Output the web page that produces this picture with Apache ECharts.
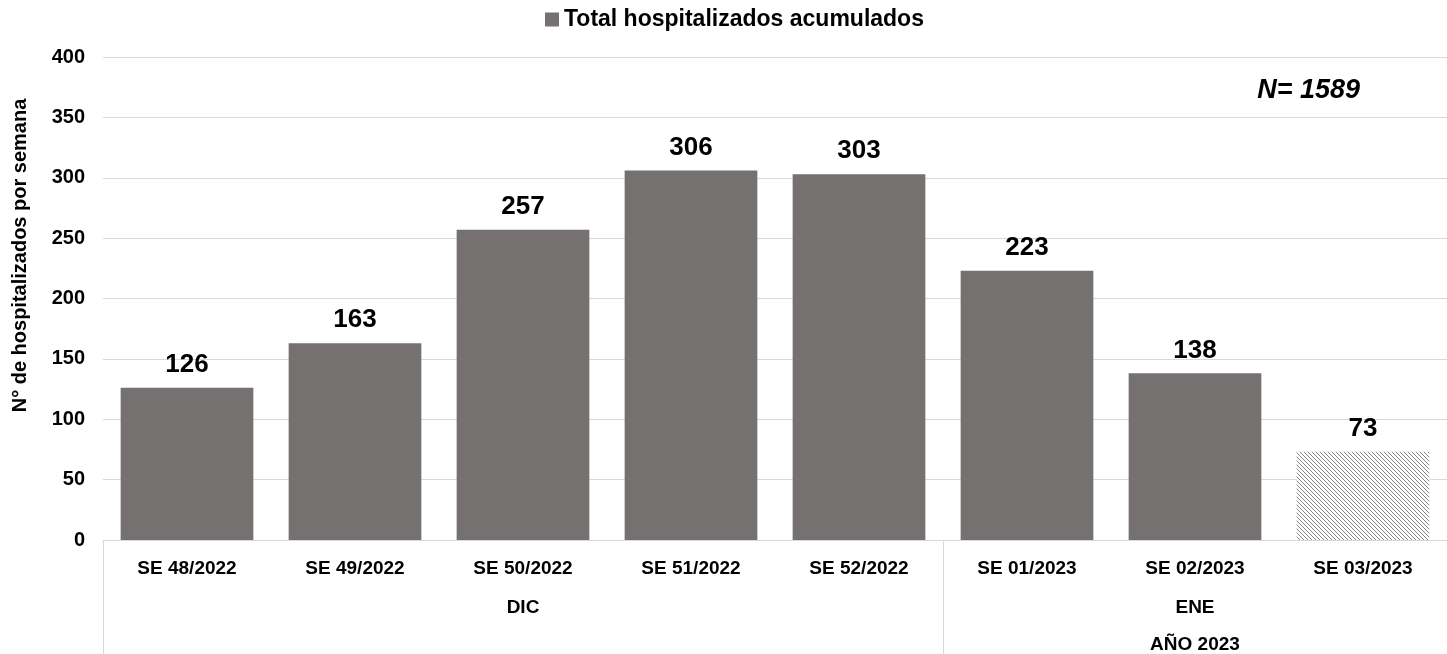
<!DOCTYPE html>
<html><head><meta charset="utf-8">
<script src="https://cdn.jsdelivr.net/npm/echarts@6/dist/echarts.min.js"></script>
<style>html,body{margin:0;padding:0;background:#fff}#c{width:1447px;height:654px}</style>
</head><body><div id="c"></div>
<script>
var categories = ['SE 48/2022','SE 49/2022','SE 50/2022','SE 51/2022','SE 52/2022','SE 01/2023','SE 02/2023','SE 03/2023'];
var values = [126, 163, 257, 306, 303, 223, 138, 73];
var monthLabels = ['', '', 'DIC', '', '', '', 'ENE', ''];
var yearLabels = ['', '', '', '', '', '', 'AÑO 2023', ''];
var yTicks = [0, 50, 100, 150, 200, 250, 300, 350, 400];
var seriesName = 'Total hospitalizados acumulados';
var totalText = 'N= 1589';
var hatchedIndex = 7;

var pc = document.createElement('canvas');
pc.width = 4; pc.height = 4;
var g = pc.getContext('2d');
g.fillStyle = '#fff'; g.fillRect(0,0,4,4);
g.strokeStyle = '#858585'; g.lineWidth = 1;
g.beginPath(); g.moveTo(-1,-1); g.lineTo(5,5); g.stroke();
g.beginPath(); g.moveTo(3,-1); g.lineTo(5,1); g.stroke();
g.beginPath(); g.moveTo(-1,3); g.lineTo(1,5); g.stroke();

var FONT = 'Arial, "Liberation Sans", sans-serif';
var barData = values.map(function(v, i){
  if (i === hatchedIndex) return {value: v, itemStyle: {color: {image: pc, repeat: 'repeat'}}};
  return v;
});
var chart = echarts.init(document.getElementById('c'));
chart.setOption({
  animation: false,
  textStyle: {fontFamily: FONT},
  title: {text: totalText, right: 82, top: 72, textStyle: {fontSize: 27, fontWeight: 'bold', fontStyle: 'italic', color: '#000', fontFamily: FONT}},
  legend: {data: [seriesName], top: 3, left: 540, icon: 'rect', itemWidth: 14, itemHeight: 14, itemGap: 6,
    textStyle: {fontSize: 23, fontWeight: 'bold', color: '#000', fontFamily: FONT}},
  grid: {left: 103, right: -4, top: 57, bottom: 114, containLabel: false},
  xAxis: [
    {type: 'category', data: categories, position: 'bottom',
     axisLine: {lineStyle: {color: '#d9d9d9', width: 1}},
     axisTick: {show: true, length: 114, lineStyle: {color: '#d9d9d9'}, interval: function(i){ return i === 0 || i === 5; }},
     axisLabel: {fontSize: 19, fontWeight: 'bold', color: '#000', margin: 19, interval: 0, fontFamily: FONT}},
    {type: 'category', data: monthLabels, position: 'bottom', offset: 0,
     axisLine: {show: false}, axisTick: {show: false},
     axisLabel: {fontSize: 19, fontWeight: 'bold', color: '#000', margin: 58, interval: 0, fontFamily: FONT}},
    {type: 'category', data: yearLabels, position: 'bottom', offset: 0,
     axisLine: {show: false}, axisTick: {show: false},
     axisLabel: {fontSize: 19, fontWeight: 'bold', color: '#000', margin: 95, interval: 0, fontFamily: FONT}}
  ],
  yAxis: {type: 'value', min: yTicks[0], max: yTicks[yTicks.length-1], interval: 50,
    name: 'N° de hospitalizados por semana', nameLocation: 'middle', nameGap: 73, nameRotate: 90,
    nameTextStyle: {fontSize: 20, fontWeight: 'bold', color: '#000', fontFamily: FONT, padding: [0, 0, 0, 86]},
    axisLine: {show: false}, axisTick: {show: false},
    axisLabel: {fontSize: 20, fontWeight: 'bold', color: '#000', margin: 18, fontFamily: FONT},
    splitLine: {lineStyle: {color: '#d9d9d9', width: 1}}},
  series: [{name: seriesName, type: 'bar', data: barData, barCategoryGap: '21%',
    itemStyle: {color: '#767171'},
    label: {show: true, position: 'top', distance: 10, fontSize: 26, fontWeight: 'bold', color: '#000', fontFamily: FONT}}]
});
</script></body></html>
